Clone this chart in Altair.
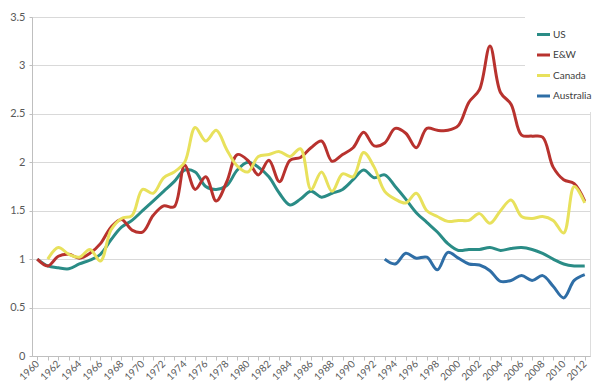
import altair as alt
import pandas as pd

years = list(range(1960, 2013))

us = [1.00, 0.93, 0.91, 0.90, 0.95, 0.99, 1.05, 1.20, 1.33, 1.40,
      1.50, 1.60, 1.70, 1.80, 1.92, 1.90, 1.75, 1.72, 1.76, 1.92,
      2.00, 1.95, 1.85, 1.68, 1.56, 1.62, 1.70, 1.64, 1.68, 1.72,
      1.82, 1.92, 1.84, 1.87, 1.75, 1.62, 1.48, 1.38, 1.28, 1.16,
      1.09, 1.10, 1.10, 1.12, 1.09, 1.11, 1.12, 1.10, 1.06, 1.00,
      0.95, 0.93, 0.93]

ew = [1.00, 0.93, 1.03, 1.05, 1.01, 1.06, 1.16, 1.33, 1.41, 1.30,
      1.28, 1.45, 1.55, 1.54, 1.97, 1.72, 1.85, 1.60, 1.80, 2.08,
      2.02, 1.87, 2.02, 1.80, 2.02, 2.05, 2.15, 2.22, 2.01, 2.08,
      2.15, 2.31, 2.17, 2.20, 2.35, 2.30, 2.15, 2.35, 2.33, 2.33,
      2.38, 2.62, 2.75, 3.20, 2.72, 2.60, 2.28, 2.27, 2.26, 1.95,
      1.82, 1.78, 1.60]

canada = [None, 1.00, 1.12, 1.05, 1.02, 1.10, 0.98, 1.30, 1.42, 1.45,
          1.72, 1.68, 1.84, 1.90, 2.00, 2.36, 2.22, 2.33, 2.13, 1.96,
          1.90, 2.06, 2.08, 2.11, 2.06, 2.14, 1.72, 1.90, 1.70, 1.88,
          1.85, 2.10, 1.95, 1.70, 1.62, 1.58, 1.68, 1.50, 1.44, 1.39,
          1.40, 1.40, 1.47, 1.37, 1.50, 1.61, 1.44, 1.42, 1.44, 1.40,
          1.27, 1.75, 1.58]

australia = [None] * 33 + [1.00, 0.95, 1.06, 1.01, 1.02, 0.89, 1.07,
                           1.01, 0.95, 0.94, 0.88, 0.77, 0.78, 0.83, 0.78,
                           0.83, 0.72, 0.60, 0.78, 0.84]

series_names = ["US", "E&W", "Canada", "Australia"]
series_colors = ["#2A8C86", "#B8322E", "#E8E15C", "#2F6EA6"]

df = pd.DataFrame({"Year": years, "US": us, "E&W": ew,
                   "Canada": canada, "Australia": australia})
long = df.melt(id_vars="Year", var_name="Series", value_name="Value").dropna()

font = "Lato"

chart = alt.Chart(long).mark_line(
    strokeWidth=3, interpolate="catmull-rom"
).encode(
    x=alt.X("Year:Q",
            scale=alt.Scale(domain=[1959.5, 2012.5], nice=False, zero=False),
            axis=alt.Axis(
                title=None, grid=False, values=years, format="d",
                labelExpr="datum.value % 2 === 0 ? datum.label : ''",
                labelAngle=-45, labelAlign="right", labelBaseline="middle",
                labelOverlap=False, labelBound=False, labelFlush=False,
                labelPadding=2,
                labelFontSize=10, labelColor="#595959", labelFont=font,
                tickSize=4, tickColor="#bfbfbf",
                domainColor="#bfbfbf")),
    y=alt.Y("Value:Q",
            scale=alt.Scale(domain=[0, 3.5], nice=False),
            axis=alt.Axis(
                title=None, values=[0, 0.5, 1, 1.5, 2, 2.5, 3, 3.5], format="~g",
                gridColor="#d9d9d9", domainColor="#bfbfbf", tickColor="#bfbfbf",
                tickSize=3, labelPadding=4, labelFontSize=11,
                labelColor="#595959", labelFont=font)),
    color=alt.Color("Series:N",
                    scale=alt.Scale(domain=series_names, range=series_colors),
                    legend=alt.Legend(
                        title=None, orient="none", legendX=493, legendY=-1,
                        symbolType="stroke", symbolSize=170, symbolStrokeWidth=3,
                        labelFontSize=10, labelColor="#404040", labelFont=font,
                        labelOffset=1, rowPadding=5.5, padding=10,
                        labelLimit=200, fillColor="white")),
).properties(
    width=558, height=339,
    autosize=alt.AutoSizeParams(type="none"),
    padding={"left": 24, "top": 9, "right": 2, "bottom": 32},
).configure_view(stroke=None).configure(background="white")

chart.save("out.html", embed_options={"renderer": "svg", "actions": False})
